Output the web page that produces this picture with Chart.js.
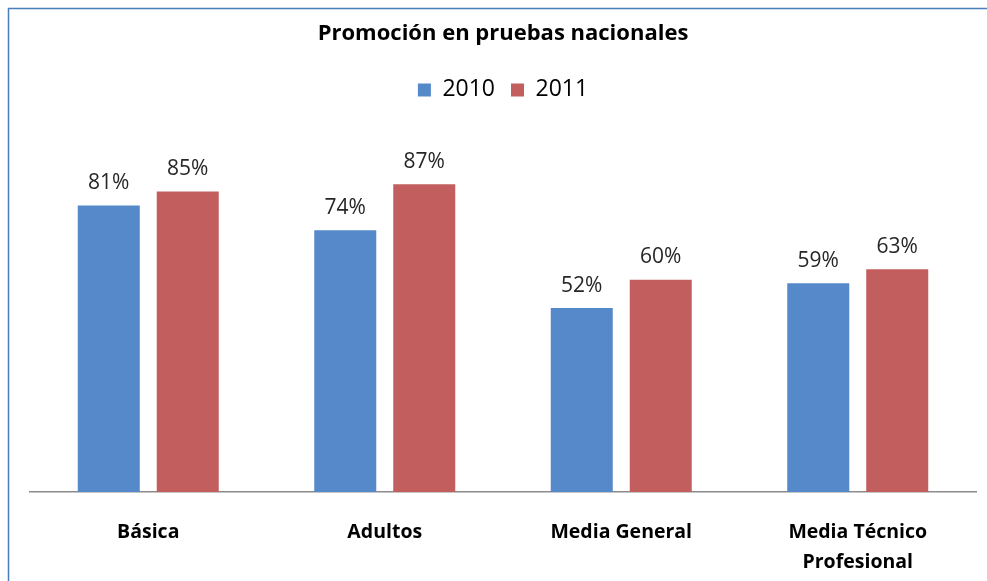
<!DOCTYPE html>
<html><head><meta charset="utf-8">
<script src="https://cdn.jsdelivr.net/npm/chart.js@4"></script>
<style>html,body{margin:0;padding:0;background:#fff;}#wrap{position:relative;width:987px;height:581px;}</style>
</head><body><div id="wrap"><canvas id="c" width="987" height="581"></canvas></div>
<script>
const categories = ["Básica", "Adultos", "Media General", ["Media Técnico", "Profesional"]];
const seriesNames = ["2010", "2011"];
const values2010 = [81, 74, 52, 59];
const values2011 = [85, 87, 60, 63];
const FONT = "'Open Sans', sans-serif";

const borderPlugin = {
  id: 'frame',
  beforeDraw(chart) {
    const ctx = chart.ctx;
    ctx.save();
    ctx.fillStyle = '#fff';
    ctx.fillRect(0, 0, chart.width, chart.height);
    ctx.strokeStyle = '#4A7EBB';
    ctx.lineWidth = 1.5;
    ctx.strokeRect(8.5, 8.5, 2000, 2000);
    ctx.restore();
  }
};
const legendGap = {
  id: 'legendGap',
  beforeLayout(chart) {
    const lg = chart.legend;
    if (lg && !lg._gapPatched) {
      const orig = lg.fit;
      lg.fit = function () { orig.apply(this, arguments); this.height += 27; };
      lg._gapPatched = true;
    }
  }
};
const labelPlugin = {
  id: 'vlabels',
  afterDatasetsDraw(chart) {
    const ctx = chart.ctx;
    ctx.save();
    ctx.font = "21px " + FONT;
    ctx.fillStyle = '#262626';
    ctx.textAlign = 'center';
    ctx.textBaseline = 'bottom';
    chart.data.datasets.forEach((ds, i) => {
      chart.getDatasetMeta(i).data.forEach((bar, j) => {
        ctx.fillText(ds.data[j] + '%', bar.x, bar.y - 12);
      });
    });
    ctx.restore();
  }
};

new Chart(document.getElementById('c'), {
  type: 'bar',
  data: {
    labels: categories,
    datasets: [
      { label: seriesNames[0], data: values2010, backgroundColor: '#5589C9', categoryPercentage: 0.668, barPercentage: 0.785 },
      { label: seriesNames[1], data: values2011, backgroundColor: '#C25F5E', categoryPercentage: 0.668, barPercentage: 0.785 }
    ]
  },
  options: {
    responsive: false,
    animation: false,
    layout: { padding: { left: 30, right: 11, top: 0, bottom: -21 } },
    plugins: {
      title: { display: true, text: 'Promoción en pruebas nacionales', color: '#000',
        font: { family: FONT, size: 22, weight: 'bold' }, padding: { top: 21, bottom: 15 } },
      legend: { display: true, position: 'top',
        labels: { color: '#000', font: { family: FONT, size: 23 }, boxWidth: 13, boxHeight: 13, padding: 16 } },
      tooltip: { enabled: false }
    },
    scales: {
      x: {
        grid: { display: false, drawTicks: false },
        border: { display: true, color: '#8C8C8C', width: 1.5 },
        ticks: { color: '#000', padding: 25, font: { family: FONT, size: 19.5, weight: 'bold', lineHeight: 1.54 }, maxRotation: 0, autoSkip: false }
      },
      y: { display: false, min: 0, max: 100 }
    }
  },
  plugins: [borderPlugin, legendGap, labelPlugin]
});
</script></body></html>
